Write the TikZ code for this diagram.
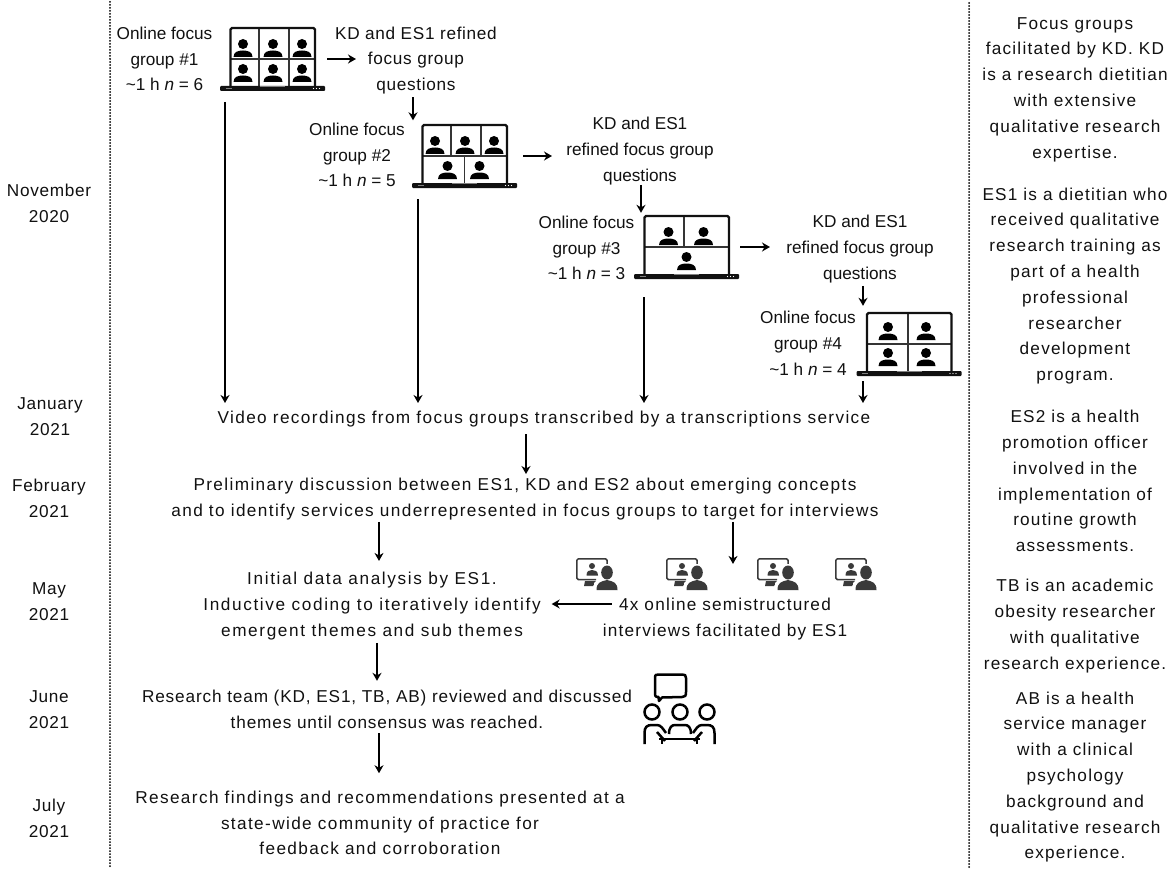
\documentclass[tikz,border=0pt]{standalone}
\usepackage{fontspec}
\setmainfont{Liberation Sans}
\usetikzlibrary{arrows.meta}
\definecolor{ink}{HTML}{111111}
\definecolor{icon}{HTML}{3A3A3A}
\newcommand\basefont{\fontsize{17.2}{25.8}\selectfont}
\tikzset{
  txtbase/.style={inner sep=0pt,outer sep=0pt,align=center,text=ink},
  txt/.style={txtbase,font=\basefont},
  txtw/.style={txtbase,font=\basefont\addfontfeature{LetterSpace=7}},
  txtx/.style={txtbase,font=\basefont\addfontfeature{LetterSpace=8}},
  txtm/.style={txtbase,font=\basefont\addfontfeature{LetterSpace=4}},
  txtr/.style={txtbase,font=\basefont\addfontfeature{LetterSpace=5}},
  lapbox/.style={inner sep=0pt,outer sep=0pt,minimum width=105pt,minimum height=64pt},
  arr/.style={line width=1.5pt,black,-{Stealth[length=8pt,width=9pt]}},
  sep/.style={line width=2pt,black,line cap=round,dash pattern=on 0pt off 3pt},
  cell/.style={line width=1.2pt,ink!85!white}
}
\newcommand\person[2]{%
  \fill[black] (#1,#2) circle[radius=5pt];
  \fill[black] (#1-9.5,#2+13) .. controls (#1-9.5,#2+8) and (#1-5,#2+6.5) .. (#1,#2+6.5)
     .. controls (#1+5,#2+6.5) and (#1+9.5,#2+8) .. (#1+9.5,#2+13) -- cycle;}
\newcommand\lap[4]{%
  \node[lapbox] (#1) at (#2,#3) {};
  \begin{scope}[shift={(#2,#3)}]
    #4
    \draw[line width=2.4pt,ink,rounded corners=1.5pt] (-42,28) -- (-42,-31) -- (42.5,-31) -- (42.5,28);
    \fill[ink,rounded corners=1pt] (-52.5,27) rectangle (52.5,32);
    \draw[gray,line width=.8pt] (-12.5,27.6) -- (12.5,27.6);
    \draw[gray,line width=.8pt] (-47,29.5) -- (-41,29.5);
    \foreach \d in {41,44,47} \fill[white] (\d,29.5) circle[radius=.6pt];
  \end{scope}}
\newcommand\iview[3]{%
  \node[inner sep=0pt,outer sep=0pt,minimum width=41pt,minimum height=32pt,anchor=north west] (#1) at (#2,#3) {};
  \begin{scope}[shift={(#2,#3)}]
    \draw[icon,line width=1.5pt,rounded corners=1.5pt] (31,10) -- (31,.8) -- (.8,.8) -- (.8,21.5) -- (20,21.5);
    \fill[icon] (16,8) circle[radius=3pt];
    \fill[icon] (10.5,17.5) .. controls (10.5,13) and (13,12) .. (16,12) .. controls (19,12) and (22,13) .. (22,17.5) -- cycle;
    \fill[icon] (9,23) -- (20,23) -- (17,28) -- (8,28) -- cycle;
    \fill[white] (31,15) ellipse[x radius=8pt,y radius=9pt];
    \fill[white] (18,32) -- (18,25) -- (25,19) -- (37,19) -- (41,25) -- (41,32) -- cycle;
    \fill[icon] (31,14.5) ellipse[x radius=5.8pt,y radius=7pt];
    \fill[icon] (20.5,32) .. controls (20.5,25) and (24,23.5) .. (31,22) .. controls (38,23.5) and (41.5,25) .. (41.5,32) -- cycle;
  \end{scope}}
\begin{document}
\begin{tikzpicture}[x=1pt,y=-1pt]
\useasboundingbox (0,0) rectangle (1170,872);
\fill[white] (0,0) rectangle (1170,872);
% separators
\coordinate (s1a) at (110,2); \coordinate (s1b) at (110,868);
\coordinate (s2a) at (969,3); \coordinate (s2b) at (969,868);
\draw[sep] (s1a) -- (s1b);
\draw[sep] (s2a) -- (s2b);
% dates
\node[txtm] (d1) at (49,203) {November\\2020};
\node[txtm] (d2) at (50,417) {January\\2021};
\node[txtm] (d3) at (49,498) {February\\2021};
\node[txtm] (d4) at (49,602) {May\\2021};
\node[txtm] (d5) at (49,710) {June\\2021};
\node[txtm] (d6) at (49,818) {July\\2021};
% right notes
\node[txtw] (n1) at (1075,89.5) {Focus groups\\facilitated by KD. KD\\is a research dietitian\\with extensive\\qualitative research\\expertise.};
\node[txtw] (n2) at (1075,286) {ES1 is a dietitian who\\received qualitative\\research training as\\part of a health\\professional\\researcher\\development\\program.};
\node[txtw] (n3) at (1075,481) {ES2 is a health\\promotion officer\\involved in the\\implementation of\\routine growth\\assessments.};
\node[txtw] (n4) at (1075,626) {TB is an academic\\obesity researcher\\with qualitative\\research experience.};
\node[txtw] (n5) at (1075,777) {AB is a health\\service manager\\with a clinical\\psychology\\background and\\qualitative research\\experience.};
% laptops
\lap{L1}{272.5}{59}{%
  \draw[cell] (-13.5,-31) -- (-13.5,27) (16.5,-31) -- (16.5,27) (-42,0) -- (42,0);
  \person{-29.5}{-15}\person{.5}{-15}\person{29.5}{-15}
  \person{-29.5}{10}\person{.5}{10}\person{29.5}{10}}
\lap{L2}{464.5}{156}{%
  \draw[cell] (-13.5,-31) -- (-13.5,0) (16.5,-31) -- (16.5,0) (0,0) -- (0,27) (-42,0) -- (42,0);
  \person{-29.5}{-15}\person{.5}{-15}\person{29.5}{-15}
  \person{-17}{10}\person{15}{10}}
\lap{L3}{686.5}{247}{%
  \draw[cell] (-2.5,-31) -- (-2.5,0) (-42,0) -- (42,0);
  \person{-18}{-15}\person{17}{-15}\person{0}{10}}
\lap{L4}{909}{344}{%
  \draw[cell] (-1,-31) -- (-1,27) (-42,0) -- (42,0);
  \person{-21}{-17}\person{17}{-17}\person{-21}{9}\person{17}{9}}
% focus group labels
\node[txt] (g1) at (164.5,59) {Online focus\\group \#1\\\textasciitilde1 h \textit{n} = 6};
\node[txt] (g2) at (357,155) {Online focus\\group \#2\\\textasciitilde1 h \textit{n} = 5};
\node[txt] (g3) at (586.5,248) {Online focus\\group \#3\\\textasciitilde1 h \textit{n} = 3};
\node[txt] (g4) at (808,343) {Online focus\\group \#4\\\textasciitilde1 h \textit{n} = 4};
% refinement labels
\node[txtm] (k1) at (416,60.5) {KD and ES1 refined\\focus group\\questions};
\node[txt] (k2) at (640,151) {KD and ES1\\refined focus group\\questions};
\node[txt] (k3) at (860,249) {KD and ES1\\refined focus group\\questions};
% main flow
\node[txtx] (vid) at (544,419) {Video recordings from focus groups transcribed by a transcriptions service};
\node[txtx] (pre) at (525,499) {Preliminary discussion between ES1, KD and ES2 about emerging concepts\\and to identify services underrepresented in focus groups to target for interviews};
\node[txtbase,font=\basefont\addfontfeature{LetterSpace=9.5}] (ini) at (372,606) {Initial data analysis by ES1.\\Inductive coding to iteratively identify\\emergent themes and sub themes};
\node[txtw] (fox) at (725,619) {4x online semistructured\\interviews facilitated by ES1};
\node[txtr] (res) at (387,709) {Research team (KD, ES1, TB, AB) reviewed and discussed\\themes until consensus was reached.};
\node[txtx] (fin) at (380,823) {Research findings and recommendations presented at a\\state-wide community of practice for\\feedback and corroboration};
% interview icons
\iview{i1}{576}{558}\iview{i2}{666}{558}\iview{i3}{757}{558}\iview{i4}{835}{558}
% team icon
\node[inner sep=0pt,outer sep=0pt,minimum width=73pt,minimum height=71pt,anchor=north west] (team) at (643,673) {};
\begin{scope}[shift={(643,673)},line width=2.5pt,black]
  \draw[line join=round] (19,24.5) -- (16,28) -- (15.5,24) .. controls (12,24) and (12,23) .. (12,19) -- (12,5) .. controls (12,1.5) and (13,1.5) .. (16,1.5) -- (39,1.5) .. controls (42,1.5) and (43,2) .. (43,5) -- (43,19) .. controls (43,23) and (42,24) .. (39,24) -- cycle;
  \draw (9,39) circle[radius=7.5pt] (37,39) circle[radius=7.5pt] (64,39) circle[radius=7.5pt];
  \draw (1.5,71) -- (1.5,60) .. controls (1.5,54) and (4,52) .. (9,52) -- (14,52) .. controls (18,52) and (20,56) .. (23,60);
  \draw (71.5,71) -- (71.5,60) .. controls (71.5,54) and (69,52) .. (64,52) -- (59,52) .. controls (55,52) and (53,56) .. (50,60);
  \draw (26,61) .. controls (26,54) and (29,52) .. (32,52) -- (42,52) .. controls (45,52) and (48,54) .. (48,61);
  \draw (14,59) -- (22,68) (59,59) -- (51,68);
  \draw (16,66) -- (57,66);
  \draw (19,66) -- (19,71) (54,66) -- (54,71);
\end{scope}
% connectors
\draw[arr] ([xshift=2pt]L1.east) -- ([xshift=31pt]L1.east);
\draw[arr] ([xshift=-3pt,yshift=-3pt]k1.south) -- ([xshift=-3pt,yshift=-26pt]k1.south);
\draw[arr] ([xshift=6pt]L2.east) -- ([xshift=35pt]L2.east);
\draw[arr] ([xshift=1pt,yshift=0pt]k2.south) -- ([xshift=1pt,yshift=-28pt]k2.south);
\draw[arr] ([xshift=1pt]L3.east) -- ([xshift=31pt]L3.east);
\draw[arr] ([xshift=3pt,yshift=-3pt]k3.south) -- ([xshift=3pt,yshift=-23pt]k3.south);
\draw[arr] ([xshift=-47.5pt,yshift=-11pt]L1.south) -- ([xshift=-47.5pt,yshift=8pt]L1.south |- vid.north);
\draw[arr] ([xshift=-46.5pt,yshift=-11pt]L2.south) -- ([xshift=-46.5pt,yshift=8pt]L2.south |- vid.north);
\draw[arr] ([xshift=-42.5pt,yshift=-18pt]L3.south) -- ([xshift=-42.5pt,yshift=8pt]L3.south |- vid.north);
\draw[arr] ([xshift=-46pt,yshift=-5pt]L4.south) -- ([xshift=-46pt,yshift=8pt]L4.south |- vid.north);
\draw[arr] ([xshift=-18pt,yshift=-7pt]vid.south) -- ([xshift=-18pt,yshift=-47pt]vid.south);
\draw[arr] ([xshift=-146pt,yshift=-2pt]pre.south) -- ([xshift=-146pt,yshift=-41pt]pre.south);
\draw[arr] ([xshift=208pt,yshift=-2pt]pre.south) -- ([xshift=208pt,yshift=-44pt]pre.south);
\draw[arr] ([xshift=9pt,yshift=15pt]fox.west) -- ([xshift=11pt,yshift=2pt]ini.east);
\draw[arr] ([xshift=5pt,yshift=-3pt]ini.south) -- ([xshift=5pt,yshift=-41pt]ini.south);
\draw[arr] ([xshift=-8pt,yshift=-5pt]res.south) -- ([xshift=-8pt,yshift=-45pt]res.south);
\end{tikzpicture}
\end{document}
